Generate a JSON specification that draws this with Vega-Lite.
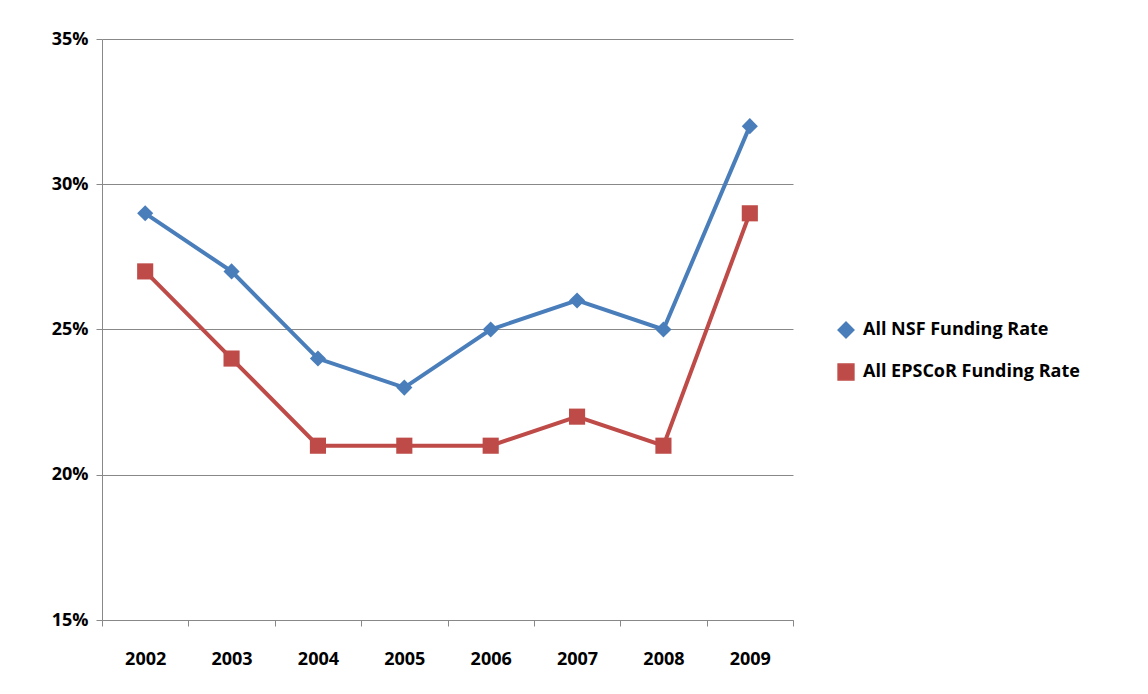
{
  "$schema": "https://vega.github.io/schema/vega-lite/v6.json",
  "width": 691,
  "height": 581,
  "autosize": "none",
  "padding": {"left": 102, "top": 39, "right": 355, "bottom": 74},
  "background": "white",
  "config": {
    "view": {"stroke": null},
    "font": "Open Sans",
    "axis": {"labelFont": "Open Sans", "labelFontWeight": "bold", "labelFontSize": 18, "labelColor": "#000", "domainColor": "#888", "tickColor": "#888"}
  },
  "data": {
    "values": [
      {"year": "2002", "series": "All NSF Funding Rate", "rate": 0.29},
      {"year": "2003", "series": "All NSF Funding Rate", "rate": 0.27},
      {"year": "2004", "series": "All NSF Funding Rate", "rate": 0.24},
      {"year": "2005", "series": "All NSF Funding Rate", "rate": 0.23},
      {"year": "2006", "series": "All NSF Funding Rate", "rate": 0.25},
      {"year": "2007", "series": "All NSF Funding Rate", "rate": 0.26},
      {"year": "2008", "series": "All NSF Funding Rate", "rate": 0.25},
      {"year": "2009", "series": "All NSF Funding Rate", "rate": 0.32},
      {"year": "2002", "series": "All EPSCoR Funding Rate", "rate": 0.27},
      {"year": "2003", "series": "All EPSCoR Funding Rate", "rate": 0.24},
      {"year": "2004", "series": "All EPSCoR Funding Rate", "rate": 0.21},
      {"year": "2005", "series": "All EPSCoR Funding Rate", "rate": 0.21},
      {"year": "2006", "series": "All EPSCoR Funding Rate", "rate": 0.21},
      {"year": "2007", "series": "All EPSCoR Funding Rate", "rate": 0.22},
      {"year": "2008", "series": "All EPSCoR Funding Rate", "rate": 0.21},
      {"year": "2009", "series": "All EPSCoR Funding Rate", "rate": 0.29}
    ]
  },
  "encoding": {
    "x": {"field": "year", "type": "ordinal", "title": null,
      "scale": {"paddingInner": 0, "paddingOuter": 0},
      "axis": {"labelAngle": 0, "tickBand": "extent", "labelPadding": 24, "tickSize": 6}},
    "y": {"field": "rate", "type": "quantitative", "title": null,
      "scale": {"domain": [0.15, 0.35]},
      "axis": {"values": [0.15, 0.2, 0.25, 0.3, 0.35], "format": ".0%", "gridColor": "#888", "labelPadding": 8, "tickSize": 6}},
    "color": {"field": "series", "type": "nominal",
      "scale": {"domain": ["All NSF Funding Rate", "All EPSCoR Funding Rate"], "range": ["#4a7ebb", "#be4b48"]},
      "legend": {"title": null, "orient": "none", "legendX": 735, "legendY": 282, "labelFontSize": 18, "labelFontWeight": "bold", "labelColor": "#000", "symbolSize": 250, "labelOffset": 8, "rowPadding": 20, "labelLimit": 400}},
    "shape": {"field": "series", "type": "nominal",
      "scale": {"domain": ["All NSF Funding Rate", "All EPSCoR Funding Rate"], "range": ["diamond", "square"]}, "legend": null}
  },
  "layer": [
    {"mark": {"type": "line", "strokeWidth": 4}},
    {"mark": {"type": "point", "filled": true, "opacity": 1, "size": 260}}
  ]
}
